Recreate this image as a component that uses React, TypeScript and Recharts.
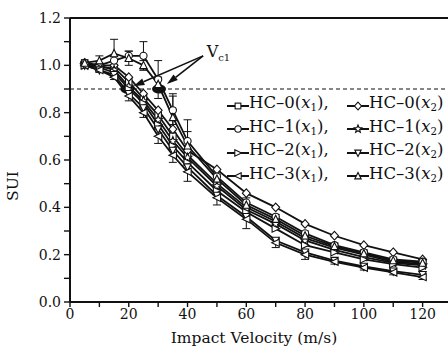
import React from 'react';
import {
  ComposedChart,
  Line,
  XAxis,
  YAxis,
  ErrorBar,
  ReferenceLine,
  ReferenceDot,
  Scatter,
  Legend,
  Label,
} from 'recharts';

// ---- data ----
const velocities = [5, 10, 15, 20, 25, 30, 35, 40, 50, 60, 70, 80, 90, 100, 110, 120];
const hc0x1 = [1.01, 0.99, 0.99, 0.93, 0.86, 0.79, 0.7, 0.62, 0.5, 0.4, 0.34, 0.27, 0.23, 0.2, 0.17, 0.16];
const hc0x2 = [1.01, 1.0, 1.0, 0.95, 0.88, 0.81, 0.73, 0.64, 0.56, 0.46, 0.4, 0.33, 0.28, 0.24, 0.21, 0.18];
const hc1x1 = [1.01, 1.0, 1.02, 1.04, 1.04, 0.94, 0.81, 0.68, 0.53, 0.42, 0.36, 0.29, 0.24, 0.21, 0.18, 0.17];
const hc1x2 = [1.0, 1.0, 0.98, 0.91, 0.85, 0.77, 0.68, 0.61, 0.49, 0.39, 0.33, 0.26, 0.22, 0.19, 0.165, 0.155];
const hc2x1 = [1.0, 0.99, 0.97, 0.9, 0.84, 0.75, 0.66, 0.59, 0.47, 0.38, 0.31, 0.24, 0.21, 0.18, 0.16, 0.145];
const hc2x2 = [1.0, 0.98, 0.96, 0.88, 0.82, 0.73, 0.64, 0.57, 0.45, 0.36, 0.26, 0.21, 0.175, 0.15, 0.13, 0.115];
const hc3x1 = [1.0, 0.98, 0.95, 0.87, 0.8, 0.7, 0.62, 0.55, 0.44, 0.35, 0.25, 0.2, 0.17, 0.145, 0.125, 0.105];
const hc3x2 = [1.01, 1.02, 1.05, 1.03, 1.0, 0.92, 0.78, 0.66, 0.52, 0.41, 0.35, 0.28, 0.235, 0.205, 0.175, 0.165];

const hc1x1Err = [0, 0.01, 0.02, 0.02, 0.06, 0.08, 0.06, 0.04, 0.02, 0.02, 0.01, 0.01, 0.01, 0.01, 0.01, 0.01];
const hc3x2Err = [0, 0.02, 0.06, 0.03, 0.02, 0.03, 0.1, 0.11, 0.02, 0.01, 0.01, 0.01, 0.01, 0.01, 0.01, 0.01];
const hc3x1Err = [0, 0.01, 0.01, 0.02, 0.02, 0.03, 0.03, 0.04, 0.03, 0.04, 0.02, 0.02, 0.01, 0.01, 0.01, 0.01];

const criticalX = [19.5, 30.3];
const criticalY = [0.9, 0.9];

const xTicks = [0, 10, 20, 30, 40, 50, 60, 70, 80, 90, 100, 110, 120, 130];
const yTicks = [0, 0.1, 0.2, 0.3, 0.4, 0.5, 0.6, 0.7, 0.8, 0.9, 1.0, 1.1, 1.2];

const data = velocities.map((v, i) => ({
  x: v,
  hc0x1: hc0x1[i],
  hc0x2: hc0x2[i],
  hc1x1: hc1x1[i],
  hc1x2: hc1x2[i],
  hc2x1: hc2x1[i],
  hc2x2: hc2x2[i],
  hc3x1: hc3x1[i],
  hc3x2: hc3x2[i],
  hc1x1Err: hc1x1Err[i],
  hc3x2Err: hc3x2Err[i],
  hc3x1Err: hc3x1Err[i],
}));

const critData = criticalX.map((x, i) => ({ x, y: criticalY[i] }));

type MarkerType = 'square' | 'diamond' | 'circle' | 'star' | 'right' | 'down' | 'left' | 'up';

const series: { key: string; name: string; idx: string; marker: MarkerType; err?: string }[] = [
  { key: 'hc0x1', name: 'HC–0', idx: '1', marker: 'square' },
  { key: 'hc0x2', name: 'HC–0', idx: '2', marker: 'diamond' },
  { key: 'hc1x1', name: 'HC–1', idx: '1', marker: 'circle', err: 'hc1x1Err' },
  { key: 'hc1x2', name: 'HC–1', idx: '2', marker: 'star' },
  { key: 'hc2x1', name: 'HC–2', idx: '1', marker: 'right' },
  { key: 'hc2x2', name: 'HC–2', idx: '2', marker: 'down' },
  { key: 'hc3x1', name: 'HC–3', idx: '1', marker: 'left', err: 'hc3x1Err' },
  { key: 'hc3x2', name: 'HC–3', idx: '2', marker: 'up', err: 'hc3x2Err' },
];

const INK = '#111';
const FONT = '"DejaVu Serif", serif';

function Marker({ type, cx, cy, s = 3.6 }: { type: MarkerType; cx: number; cy: number; s?: number }) {
  const common = { fill: '#fff', stroke: INK, strokeWidth: 1.1 };
  const pts = (arr: number[][]) => arr.map((p) => `${cx + p[0]},${cy + p[1]}`).join(' ');
  switch (type) {
    case 'square':
      return <rect x={cx - s * 0.9} y={cy - s * 0.9} width={s * 1.8} height={s * 1.8} {...common} />;
    case 'diamond':
      return <polygon points={pts([[0, -s * 1.2], [s * 1.1, 0], [0, s * 1.2], [-s * 1.1, 0]])} {...common} />;
    case 'circle':
      return <circle cx={cx} cy={cy} r={s} {...common} />;
    case 'star': {
      const arr: number[][] = [];
      for (let k = 0; k < 10; k++) {
        const r = k % 2 === 0 ? s * 1.25 : s * 0.55;
        const a = -Math.PI / 2 + (k * Math.PI) / 5;
        arr.push([r * Math.cos(a), r * Math.sin(a)]);
      }
      return <polygon points={pts(arr)} {...common} />;
    }
    case 'right':
      return <polygon points={pts([[-s, -s], [s * 1.1, 0], [-s, s]])} {...common} />;
    case 'left':
      return <polygon points={pts([[s, -s], [-s * 1.1, 0], [s, s]])} {...common} />;
    case 'down':
      return <polygon points={pts([[-s, -s * 0.9], [s, -s * 0.9], [0, s * 1.1]])} {...common} />;
    case 'up':
    default:
      return <polygon points={pts([[-s, s * 0.9], [s, s * 0.9], [0, -s * 1.1]])} {...common} />;
  }
}

const makeDot = (type: MarkerType) => (props: any) => {
  const { cx, cy, index } = props;
  if (cx == null || cy == null) return <g key={`d-${index}`} />;
  return (
    <g key={`d-${type}-${index}`}>
      <Marker type={type} cx={cx} cy={cy} />
    </g>
  );
};

function LegendItem({ marker, name, idx, comma }: { marker: MarkerType; name: string; idx: string; comma: boolean }) {
  return (
    <span style={{ display: 'inline-flex', alignItems: 'center', whiteSpace: 'nowrap' }}>
      <svg width={22} height={12} style={{ marginRight: 0 }}>
        <line x1={0} y1={6} x2={22} y2={6} stroke={INK} strokeWidth={2} />
        <Marker type={marker} cx={11} cy={6} s={3.2} />
      </svg>
      <span>
        {name}(<i>x</i>
        <sub style={{ fontSize: '0.62em', verticalAlign: '-0.3em' }}>{idx}</sub>){comma ? ',' : ''}
      </span>
    </span>
  );
}

function LegendContent() {
  const rows = [0, 1, 2, 3];
  return (
    <div style={{ fontFamily: FONT, fontSize: 16.5, color: INK, lineHeight: '18.5px' }}>
      {rows.map((r) => {
        const a = series[r * 2];
        const b = series[r * 2 + 1];
        return (
          <div key={r} style={{ display: 'flex', whiteSpace: 'nowrap' }}>
            <div style={{ width: 120 }}>
              <LegendItem marker={a.marker} name={a.name} idx={a.idx} comma />
            </div>
            <div>
              <LegendItem marker={b.marker} name={b.name} idx={b.idx} comma={false} />
            </div>
          </div>
        );
      })}
    </div>
  );
}

function ArrowShape(props: any) {
  const { x1, y1, x2, y2 } = props;
  if ([x1, y1, x2, y2].some((v) => v == null || isNaN(v))) return <g />;
  const ang = Math.atan2(y2 - y1, x2 - x1);
  const L = 11;
  const W = 3.5;
  const bx = x2 - L * Math.cos(ang);
  const by = y2 - L * Math.sin(ang);
  const px = -Math.sin(ang) * W;
  const py = Math.cos(ang) * W;
  return (
    <g>
      <line x1={x1} y1={y1} x2={bx} y2={by} stroke={INK} strokeWidth={1.6} />
      <polygon points={`${x2},${y2} ${bx + px},${by + py} ${bx - px},${by - py}`} fill={INK} />
    </g>
  );
}

function VLabel(props: any) {
  const { viewBox } = props;
  const x = viewBox ? viewBox.x : 0;
  const y = viewBox ? viewBox.y : 0;
  return (
    <text x={x} y={y} fontFamily={FONT} fontSize={16} fill={INK}>
      V
      <tspan fontSize={10} dy={4}>
        c1
      </tspan>
    </text>
  );
}

const axisTick = { fill: INK, fontSize: 14, fontFamily: FONT };

export default function App() {
  return (
    <div
      style={{
        position: 'fixed',
        left: 0,
        top: 0,
        width: 448,
        height: 347,
        overflow: 'hidden',
        background: '#fff',
      }}
    >
      <ComposedChart
        width={460}
        height={347}
        data={data}
        margin={{ top: 18, right: 8, bottom: 0, left: 0 }}
      >
        <XAxis
          type="number"
          dataKey="x"
          domain={[0, 130]}
          ticks={xTicks}
          interval={0}
          allowDataOverflow
          tick={axisTick}
          tickFormatter={(v: number) => (Math.round(v) % 20 === 0 ? String(v) : '')}
          tickSize={5}
          tickMargin={2}
          axisLine={{ stroke: INK, strokeWidth: 2 }}
          tickLine={{ stroke: INK, strokeWidth: 1.4 }}
          height={45}
        >
          <Label
            value="Impact Velocity (m/s)"
            position="insideBottom"
            offset={4}
            dx={-7}
            style={{ fontFamily: FONT, fontSize: 15.5, fill: INK }}
          />
        </XAxis>
        <YAxis
          type="number"
          domain={[0, 1.2]}
          ticks={yTicks}
          interval={0}
          tick={axisTick}
          tickFormatter={(v: number) => (Math.round(v * 10) % 2 === 0 ? v.toFixed(1) : '')}
          tickSize={6}
          tickMargin={3}
          axisLine={{ stroke: INK, strokeWidth: 2 }}
          tickLine={{ stroke: INK, strokeWidth: 1.4 }}
          width={70}
        >
          <Label
            value="SUI"
            angle={-90}
            position="insideLeft"
            offset={12}
            dy={26}
            style={{ fontFamily: FONT, fontSize: 15.5, fill: INK, textAnchor: 'middle' }}
          />
        </YAxis>

        <ReferenceLine y={1.2} stroke={INK} strokeWidth={1.8} />
        <ReferenceLine y={0.9} stroke={INK} strokeWidth={1.2} strokeDasharray="4 3" />

        {series.map((s) => (
          <Line
            key={s.key}
            dataKey={s.key}
            stroke={INK}
            strokeWidth={1.8}
            dot={makeDot(s.marker)}
            activeDot={false}
            isAnimationActive={false}
            legendType="none"
          >
            {s.err ? <ErrorBar dataKey={s.err} width={4} stroke={INK} strokeWidth={1} direction="y" /> : null}
          </Line>
        ))}

        <Scatter
          data={critData}
          dataKey="y"
          isAnimationActive={false}
          legendType="none"
          shape={(p: any) => <ellipse cx={p.cx} cy={p.cy} rx={7} ry={4.5} fill={INK} />}
        />

        <ReferenceLine
          segment={[
            { x: 45.3, y: 1.04 },
            { x: 21.6, y: 0.912 },
          ]}
          shape={ArrowShape}
        />
        <ReferenceLine
          segment={[
            { x: 45.3, y: 1.04 },
            { x: 33.0, y: 0.921 },
          ]}
          shape={ArrowShape}
        />
        <ReferenceDot x={46.5} y={1.035} r={0} fill="none" stroke="none" label={<VLabel />} />

        <Legend
          layout="vertical"
          align="center"
          verticalAlign="middle"
          content={() => <LegendContent />}
          wrapperStyle={{ position: 'absolute', left: 227, top: 94, width: 240 }}
        />
      </ComposedChart>
    </div>
  );
}
